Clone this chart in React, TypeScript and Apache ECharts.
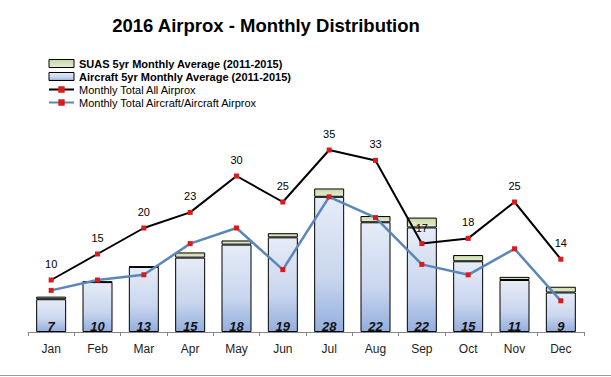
import React, { useEffect, useRef } from "react";
import * as echarts from "echarts";

const months = ["Jan", "Feb", "Mar", "Apr", "May", "Jun", "Jul", "Aug", "Sep", "Oct", "Nov", "Dec"];
const aircraftAvg = [6.3, 9.6, 12.5, 14.3, 16.8, 18.2, 26.0, 21.1, 20.1, 13.6, 10.0, 7.6];
const suasAvg = [0.5, 0.1, 0.1, 1.0, 0.8, 0.8, 1.6, 1.2, 1.9, 1.2, 0.6, 1.1];
const totalAll = [10, 15, 20, 23, 30, 25, 35, 33, 17, 18, 25, 14];
const totalAircraft = [8, 10, 11, 17, 20, 12, 26, 22, 13, 11, 16, 6];

const FONT = "Liberation Sans";

export default function App() {
  const ref = useRef<HTMLDivElement>(null);
  useEffect(() => {
    if (!ref.current) return;
    const chart = echarts.init(ref.current, null, { renderer: "svg" });
    const blueGrad = new echarts.graphic.LinearGradient(0, 0, 0, 1, [
      { offset: 0, color: "#e6ecf7" },
      { offset: 0.6, color: "#c9d6ee" },
      { offset: 1, color: "#93aedd" },
    ]);
    const greenGrad = new echarts.graphic.LinearGradient(0, 0, 0, 1, [
      { offset: 0, color: "#c9d9a6" },
      { offset: 1, color: "#e4ecd2" },
    ]);
    chart.setOption({
      animation: false,
      textStyle: { fontFamily: FONT },
      title: {
        text: "2016 Airprox - Monthly Distribution",
        left: 261,
        textAlign: "center",
        top: 11,
        textStyle: { fontFamily: FONT, fontWeight: "bold", fontSize: 18.5, color: "#000" },
      },
      legend: {
        orient: "vertical",
        left: 43,
        top: 53,
        itemWidth: 25,
        itemHeight: 8,
        itemGap: 2,
        textStyle: { fontFamily: FONT, fontSize: 11, color: "#000" },
        data: [
          {
            name: "SUAS 5yr Monthly Average (2011-2015)",
            icon: "rect",
            itemStyle: { borderWidth: 1, borderColor: "#000" },
            textStyle: { fontWeight: "bold" },
          },
          {
            name: "Aircraft 5yr Monthly Average (2011-2015)",
            icon: "rect",
            itemStyle: { borderWidth: 1, borderColor: "#000" },
            textStyle: { fontWeight: "bold" },
          },
          { name: "Monthly Total All Airprox" },
          { name: "Monthly Total Aircraft/Aircraft Airprox" },
        ],
      },
      grid: { left: 28, right: 27, top: 124, bottom: 45 },
      xAxis: {
        type: "category",
        data: months,
        boundaryGap: true,
        axisLine: { lineStyle: { color: "#868686", width: 1 } },
        axisTick: { show: true, length: 4, lineStyle: { color: "#868686" } },
        axisLabel: { fontFamily: FONT, fontSize: 12, color: "#222", margin: 11 },
      },
      yAxis: {
        type: "value",
        min: 0,
        max: 40,
        show: false,
        splitLine: { show: false },
      },
      graphic: [
        {
          type: "line",
          shape: { x1: 0, y1: 375.5, x2: 611, y2: 375.5 },
          style: { stroke: "#9a9a9a", lineWidth: 1 },
        },
      ],
      series: [
        {
          name: "Aircraft 5yr Monthly Average (2011-2015)",
          type: "bar",
          stack: "avg",
          barWidth: 30,
          data: aircraftAvg,
          itemStyle: { color: blueGrad, borderColor: "#000", borderWidth: 1 },
          label: {
            show: true,
            position: "insideBottom",
            distance: -1,
            fontFamily: FONT,
            fontSize: 13,
            fontWeight: "bold",
            fontStyle: "italic",
            color: "#111",
            formatter: (p: any) => String(Math.round(aircraftAvg[p.dataIndex] + suasAvg[p.dataIndex])),
          },
        },
        {
          name: "SUAS 5yr Monthly Average (2011-2015)",
          type: "bar",
          stack: "avg",
          barWidth: 30,
          data: suasAvg,
          itemStyle: { color: greenGrad, borderColor: "#000", borderWidth: 1 },
        },
        {
          name: "Monthly Total All Airprox",
          type: "line",
          data: totalAll,
          symbol: "rect",
          symbolSize: 5,
          lineStyle: { color: "#000", width: 2 },
          itemStyle: { color: "#dd1a1a" },
          label: {
            show: true,
            position: "top",
            distance: 8,
            fontFamily: FONT,
            fontSize: 11,
            color: "#000",
          },
        },
        {
          name: "Monthly Total Aircraft/Aircraft Airprox",
          type: "line",
          data: totalAircraft,
          symbol: "rect",
          symbolSize: 5,
          lineStyle: { color: "#5a86ba", width: 2.5 },
          itemStyle: { color: "#dd1a1a" },
        },
      ],
    });
    return () => chart.dispose();
  }, []);
  return (
    <div
      ref={ref}
      style={{ position: "fixed", left: 0, top: 0, width: 611, height: 377, background: "#fff" }}
    />
  );
}
